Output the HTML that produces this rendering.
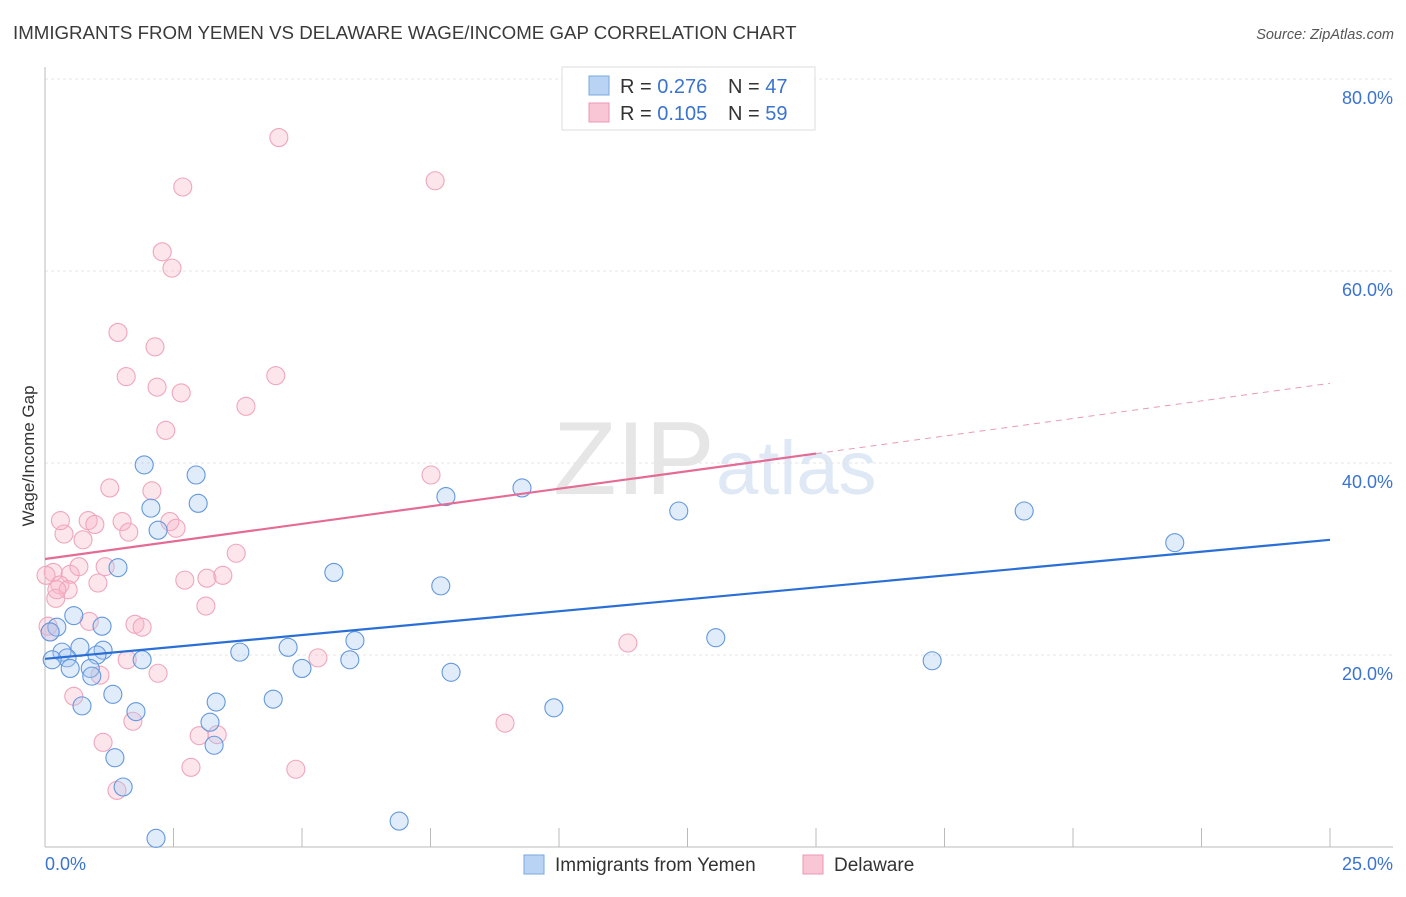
<!DOCTYPE html>
<html><head><meta charset="utf-8"><style>
body{margin:0;background:#fff;font-family:"Liberation Sans",sans-serif;}
svg text{font-family:"Liberation Sans",sans-serif;}
</style></head><body>
<svg id="chart" width="1406" height="892" xmlns="http://www.w3.org/2000/svg">
<text x="13" y="39" font-size="18.7" fill="#3a3a3a">IMMIGRANTS FROM YEMEN VS DELAWARE WAGE/INCOME GAP CORRELATION CHART</text>
<text x="1394" y="39" font-size="14.5" fill="#555" font-style="italic" text-anchor="end">Source: ZipAtlas.com</text>
<g>
<text x="553" y="494" font-size="104" fill="#e6e6e6" font-family="Liberation Serif, serif">ZIP</text>
<text x="716" y="494" font-size="76" fill="#dfe8f5">atlas</text>
</g>
<g id="grid"></g>
<g id="axes"></g>
<g id="marks"></g>
<g>
<rect x="562" y="67" width="253" height="63" fill="#fff" stroke="#ddd"/>
<rect x="589" y="76" width="20" height="19" fill="#b9d3f5" stroke="#7aa7e0"/>
<rect x="589" y="103" width="20" height="19" fill="#f9c6d6" stroke="#ec97b2"/>
<text x="620" y="93" font-size="20" fill="#333">R = <tspan fill="#3a73d0">0.276</tspan></text>
<text x="728" y="93" font-size="20" fill="#333">N = <tspan fill="#3a73d0">47</tspan></text>
<text x="620" y="120" font-size="20" fill="#333">R = <tspan fill="#3a73d0">0.105</tspan></text>
<text x="728" y="120" font-size="20" fill="#333">N = <tspan fill="#3a73d0">59</tspan></text>
</g>
<g>
<rect x="524" y="855" width="20" height="19" fill="#b9d3f5" stroke="#7aa7e0"/>
<text x="555" y="871" font-size="19" fill="#333">Immigrants from Yemen</text>
<rect x="803" y="855" width="20" height="19" fill="#f9c6d6" stroke="#ec97b2"/>
<text x="834" y="871" font-size="19" fill="#333">Delaware</text>
</g>
<text transform="translate(34,456) rotate(-90)" font-size="17" fill="#333" text-anchor="middle">Wage/Income Gap</text>
</svg>
<script>
const yTicks=[20,40,60,80];
const yTickLabels=["20.0%","40.0%","60.0%","80.0%"];
const xTickLabels=["0.0%","25.0%"];
const blueX=[1.93,2.94,2.98,2.06,2.20,1.42,0.56,1.11,0.23,0.68,1.13,0.33,0.43,1.01,1.89,0.14,0.49,0.88,0.91,1.32,0.72,1.77,3.33,3.21,3.29,1.36,1.52,2.16,3.79,4.73,5.0,5.62,6.03,5.93,4.44,7.80,7.70,7.90,9.28,9.90,6.89,12.33,13.05,17.26,19.05,21.98,0.10];
const blueY=[39.8,38.75,35.8,35.3,33.0,29.1,24.1,23.0,22.9,20.8,20.5,20.3,19.7,20.0,19.5,19.5,18.6,18.6,17.8,15.9,14.7,14.1,15.1,13.0,10.6,9.3,6.25,0.9,20.3,20.8,18.6,28.6,21.5,19.5,15.4,36.5,27.2,18.2,37.4,14.5,2.7,35.0,21.8,19.4,35.0,31.7,22.4];
const pinkX=[4.55,2.68,7.59,2.28,2.47,1.42,2.14,1.58,2.18,2.65,4.49,3.91,2.35,1.26,2.08,7.51,0.37,0.74,0.84,0.97,1.50,1.63,2.43,2.55,3.72,0.16,0.49,0.66,1.17,2.72,3.15,3.46,1.03,0.29,0.45,0.21,3.13,0.86,1.75,1.89,11.34,0.06,0.10,5.31,1.60,2.20,1.07,0.56,1.71,3.0,3.35,1.13,8.95,2.84,4.88,1.40,0.23,0.02,0.3];
const pinkY=[73.9,68.75,69.4,62.0,60.3,53.6,52.1,49.0,47.9,47.3,49.1,45.9,43.4,37.4,37.1,38.75,32.6,32.0,34.0,33.6,33.9,32.8,33.9,33.2,30.6,28.6,28.4,29.2,29.2,27.8,28.0,28.3,27.5,27.3,26.8,25.9,25.1,23.5,23.2,22.9,21.25,23.0,22.4,19.7,19.5,18.1,17.9,15.7,13.1,11.6,11.7,10.9,12.9,8.3,8.1,5.9,26.8,28.3,34.0];
const blueTrend=[19.6,32.0];
const pinkTrend=[30.0,48.3];
const pinkSolidEnd=15.0;
const X0=45,X1=1330,XMAX=25,Y0=847,PPY=9.6;
function sx(v){return X0+(X1-X0)*v/XMAX;}
function sy(v){return Y0-v*PPY;}
const NS="http://www.w3.org/2000/svg";
function mk(tag,attrs,parent){const e=document.createElementNS(NS,tag);for(const k in attrs)e.setAttribute(k,attrs[k]);document.getElementById(parent).appendChild(e);return e;}
yTicks.forEach((t,i)=>{
 const g=mk('line',{x1:45,x2:1393,y1:sy(t),y2:sy(t),stroke:'#e4e4e4','stroke-dasharray':'3,3'},'grid');
 
 
 const l=mk('text',{x:1393,y:sy(t)+25,'font-size':18,fill:'#3a73d0','text-anchor':'end'},'axes');
 l.textContent=yTickLabels[i];
 
 
});
let a=mk('line',{x1:45,x2:45,y1:67,y2:847,stroke:'#bbb'},'axes');


a=mk('line',{x1:45,x2:1393,y1:847,y2:847,stroke:'#bbb'},'axes');


for(let i=1;i<=10;i++){const t=mk('line',{x1:sx(i*2.5),x2:sx(i*2.5),y1:828,y2:847,stroke:'#bbb'},'axes');
 
 }
[[0,'start',45],[25,'end',1393]].forEach((d,i)=>{const l=mk('text',{x:d[2],y:870,'font-size':18,fill:'#3a73d0','text-anchor':d[1]},'axes');l.textContent=xTickLabels[i];
 
 });
pinkX.forEach((x,i)=>{const c=mk('circle',{cx:sx(x),cy:sy(pinkY[i]),r:9,fill:'rgba(248,180,200,0.35)',stroke:'#efa6bd','stroke-width':1.1},'marks');
 
 });
blueX.forEach((x,i)=>{const c=mk('circle',{cx:sx(x),cy:sy(blueY[i]),r:9,fill:'rgba(170,200,240,0.35)',stroke:'#6398dd','stroke-width':1.1},'marks');
 
 });
const py=x=>pinkTrend[0]+(pinkTrend[1]-pinkTrend[0])*x/XMAX;
let t=mk('line',{x1:sx(0),y1:sy(pinkTrend[0]),x2:sx(pinkSolidEnd),y2:sy(py(pinkSolidEnd)),stroke:'#e46b95','stroke-width':2.2},'marks');


t=mk('line',{x1:sx(pinkSolidEnd),y1:sy(py(pinkSolidEnd)),x2:sx(XMAX),y2:sy(pinkTrend[1]),stroke:'#e99ab5','stroke-width':1,'stroke-dasharray':'6,5'},'marks');


t=mk('line',{x1:sx(0),y1:sy(blueTrend[0]),x2:sx(XMAX),y2:sy(blueTrend[1]),stroke:'#2a6fd6','stroke-width':2.2},'marks');


</script>
</body></html>
